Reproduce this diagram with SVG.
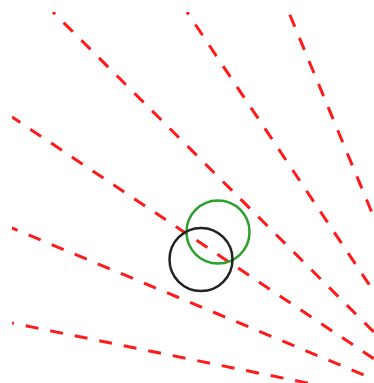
<svg xmlns="http://www.w3.org/2000/svg" width="374" height="383" viewBox="0 0 374 383">
  <style>
    .ray { stroke: #ff1a1a; stroke-width: 3; stroke-dasharray: 13 12; fill: none; }
    .node { fill: none; stroke-width: 2.5; }
  </style>
  <defs>
    <clipPath id="clip"><rect x="12" y="12" width="362" height="371"/></clipPath>
  </defs>
  <rect width="374" height="383" fill="#fff"/>
  <g id="connectors" clip-path="url(#clip)">
    <line class="ray" x1="53" y1="12" x2="455" y2="413" stroke-dashoffset="10"/>
    <line class="ray" x1="187" y1="12" x2="455" y2="413" stroke-dashoffset="10"/>
    <line class="ray" x1="288.7" y1="12" x2="455" y2="413" stroke-dashoffset="-3"/>
    <line class="ray" x1="12" y1="117" x2="455" y2="413" stroke-dashoffset="3"/>
    <line class="ray" x1="12" y1="228" x2="455" y2="413" stroke-dashoffset="7"/>
    <line class="ray" x1="12" y1="323" x2="455" y2="413" stroke-dashoffset="11"/>
  </g>
  <g id="green-circle">
    <circle class="node" cx="218" cy="232" r="31.5" stroke="#2ca02c"/>
  </g>
  <g id="black-circle">
    <circle class="node" cx="201" cy="259.5" r="31.5" stroke="#222"/>
  </g>
</svg>
